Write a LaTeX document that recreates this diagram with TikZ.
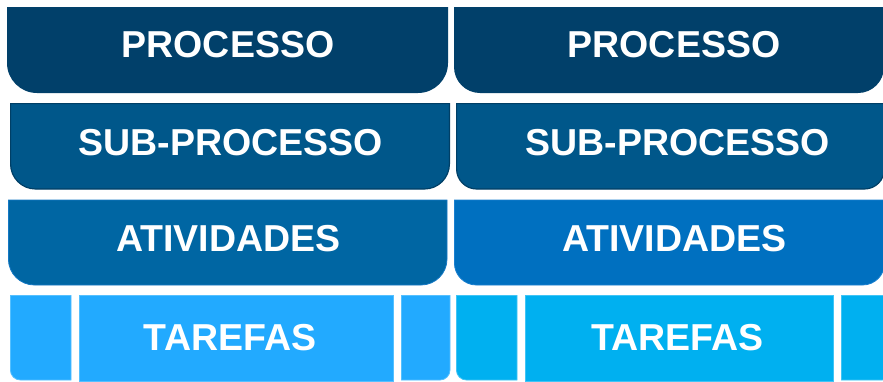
\documentclass[tikz,border=0pt]{standalone}
\usepackage{fontspec}
\setmainfont{Liberation Sans}
\definecolor{procC}{HTML}{01406A}
\definecolor{subC}{HTML}{00578A}
\definecolor{subB}{HTML}{003F66}
\definecolor{atvL}{HTML}{0066A3}
\definecolor{atvLB}{HTML}{1478C4}
\definecolor{atvR}{HTML}{0070C0}
\definecolor{atvRB}{HTML}{1A80D0}
\definecolor{tarL}{HTML}{22AAFF}
\definecolor{tarLB}{HTML}{55C0FF}
\definecolor{tarR}{HTML}{00B0F0}
\definecolor{tarRB}{HTML}{40C4F5}
% bottom-rounded box: left, top, right, bottom, radius
\newcommand{\bottomround}[6][]{%
  \path[#1] (#2,#3) -- (#2,#5-#6) arc[start angle=180,end angle=90,radius=#6]
    -- (#4-#6,#5) arc[start angle=90,end angle=0,radius=#6] -- (#4,#3) -- cycle;}
\newcommand{\blround}[6][]{%
  \path[#1] (#2,#3) -- (#2,#5-#6) arc[start angle=180,end angle=90,radius=#6]
    -- (#4,#5) -- (#4,#3) -- cycle;}
\newcommand{\brround}[6][]{%
  \path[#1] (#2,#3) -- (#2,#5) -- (#4-#6,#5) arc[start angle=90,end angle=0,radius=#6]
    -- (#4,#3) -- cycle;}
\tikzset{
  lbl/.style={text=white, font=\fontsize{37.5}{40}\selectfont\bfseries, inner sep=0pt, anchor=center},
}
\begin{document}
\begin{tikzpicture}[x=1pt,y=-1pt]
\useasboundingbox (0,0) rectangle (883,381);
\clip (0,0) rectangle (883,381);
% row 1
\bottomround[fill=procC]{7}{7}{448}{93}{30}
\bottomround[fill=procC]{454}{7}{884}{93}{26}
% row 2
\bottomround[fill=subC,draw=subB,line width=1.2pt]{10.6}{103.6}{449.4}{189}{25}
\bottomround[fill=subC,draw=subB,line width=1.2pt]{456.6}{103.6}{884.4}{189}{20}
% row 3
\bottomround[fill=atvL,draw=atvLB,line width=0.8pt]{8.4}{200}{447}{285}{26}
\bottomround[fill=atvR,draw=atvRB,line width=0.8pt]{454.4}{200}{884.6}{285}{22}
% row 4 left group
\blround[fill=tarL,draw=tarLB,line width=0.8pt]{10.4}{295.4}{71}{380}{10}
\path[fill=tarL,draw=tarLB,line width=0.8pt] (79.4,295.4) rectangle (393,381);
\brround[fill=tarL,draw=tarLB,line width=0.8pt]{401.4}{295.4}{450}{380}{10}
% row 4 right group
\blround[fill=tarR,draw=tarRB,line width=0.8pt]{456.4}{295.4}{517}{380}{10}
\path[fill=tarR,draw=tarRB,line width=0.8pt] (525.4,295.4) rectangle (833,381);
\brround[fill=tarR,draw=tarRB,line width=0.8pt]{841.4}{295.4}{892}{380}{10}
% labels
\node[lbl] (p1) at (228,45) {PROCESSO};
\node[lbl] (p2) at (674,45) {PROCESSO};
\node[lbl] (s1) at (230.5,142.5) {SUB-PROCESSO};
\node[lbl] (s2) at (677.5,142.5) {SUB-PROCESSO};
\node[lbl] (a1) at (228.5,239) {ATIVIDADES};
\node[lbl] (a2) at (674.5,239) {ATIVIDADES};
\node[lbl] (t1) at (230,337.5) {TAREFAS};
\node[lbl] (t2) at (677.5,337.5) {TAREFAS};
\end{tikzpicture}
\end{document}
